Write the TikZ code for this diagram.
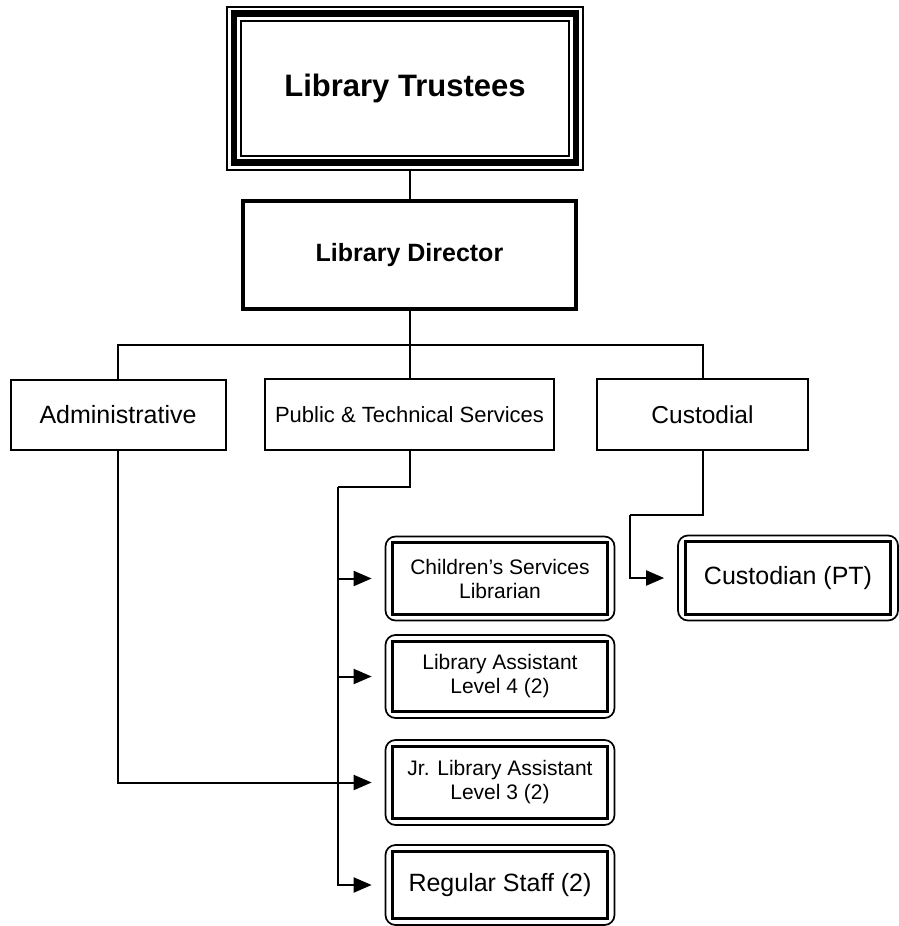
\documentclass[tikz,border=0pt]{standalone}
\usepackage{fontspec}
\setmainfont{Liberation Sans}
\usetikzlibrary{arrows.meta,positioning,calc}
\begin{document}
\begin{tikzpicture}[x=1pt,y=-1pt,
  conn/.style={line width=2pt, line join=miter},
  arr/.style={conn, -{Triangle[length=18pt,width=15pt]}, shorten >=13pt},
  midbox/.style={draw, line width=2pt, inner sep=0pt},
  lowbox/.style={draw, rounded corners=10pt, line width=1.7pt, inner sep=0pt, minimum width=229pt},
  innerline/.style={line width=2.8pt},
  bigtext/.style={font=\bfseries\fontsize{31}{35}\selectfont},
  dirtext/.style={font=\bfseries\fontsize{25}{29}\selectfont},
  twoline/.style={font=\fontsize{21}{24}\selectfont, align=center},
  oneline/.style={font=\fontsize{25}{28}\selectfont}
]
\useasboundingbox (0,0) rectangle (899,926);
\fill[white] (0,0) rectangle (899,926);

% Top level
\node[draw, line width=2pt, minimum width=356pt, minimum height=163pt, inner sep=0pt, bigtext] (trustees) at (405,88) {Library Trustees};
\draw[line width=6.5pt] ($(trustees.north west)+(8,8)$) rectangle ($(trustees.south east)+(-8,-8)$);
\draw[line width=2pt] ($(trustees.north west)+(15,15)$) rectangle ($(trustees.south east)+(-15,-15)$);

\node[draw, line width=4pt, minimum width=333pt, minimum height=108pt, inner sep=0pt, dirtext] (director) at (409.5,255) {Library Director};

% Second level
\node[midbox, minimum width=215pt, minimum height=70pt, font=\fontsize{25}{28}\selectfont] (admin) at (118,415) {Administrative};
\node[midbox, minimum width=289pt, minimum height=71pt, font=\fontsize{22}{26}\selectfont] (pts) at (409.5,414.5) {Public \& Technical Services};
\node[midbox, minimum width=211pt, minimum height=71pt, font=\fontsize{24.5}{28}\selectfont] (custodial) at (702.5,414.5) {Custodial};

% Third level
\node[lowbox, minimum height=84pt, twoline] (children) at (500,578.5) {Children's Services\\Librarian};
\node[lowbox, minimum height=83pt, twoline] (libasst) at (500,676.5) {Library Assistant\\Level 4 (2)};
\node[lowbox, minimum height=85pt, twoline] (jr) at (500,782.5) {Jr. Library Assistant\\Level 3 (2)};
\node[lowbox, minimum height=80pt, oneline] (regular) at (500,885) {Regular Staff (2)};
\node[lowbox, minimum width=220pt, minimum height=85pt, oneline] (custodian) at (788,578) {Custodian (PT)};

\foreach \n in {children,libasst,jr,regular,custodian}{
  \draw[innerline] ($(\n.north west)+(8,7)$) rectangle ($(\n.south east)+(-8,-7)$);
}

% Coordinates for bends
\coordinate (bus) at (409.5,345);
\coordinate (ptcorner) at (338,487);
\coordinate (cucorner) at (630,515);

% Connectors
\draw[conn] (trustees.south -| director.north) -- (director.north);
\draw[conn] (director.south) -- (bus);
\draw[conn] (admin.north) |- (bus) -| (custodial.north);
\draw[conn] (bus) -- (pts.north);

\draw[conn] (pts.south) |- (ptcorner);
\draw[arr] (ptcorner) |- (regular.west);
\draw[arr] (ptcorner |- children.west) -- (children.west);
\draw[arr] (ptcorner |- libasst.west) -- (libasst.west);
\draw[arr] (admin.south) |- (jr.west);

\draw[conn] (custodial.south) |- (cucorner);
\draw[arr] (cucorner) |- (custodian.west);
\end{tikzpicture}
\end{document}
